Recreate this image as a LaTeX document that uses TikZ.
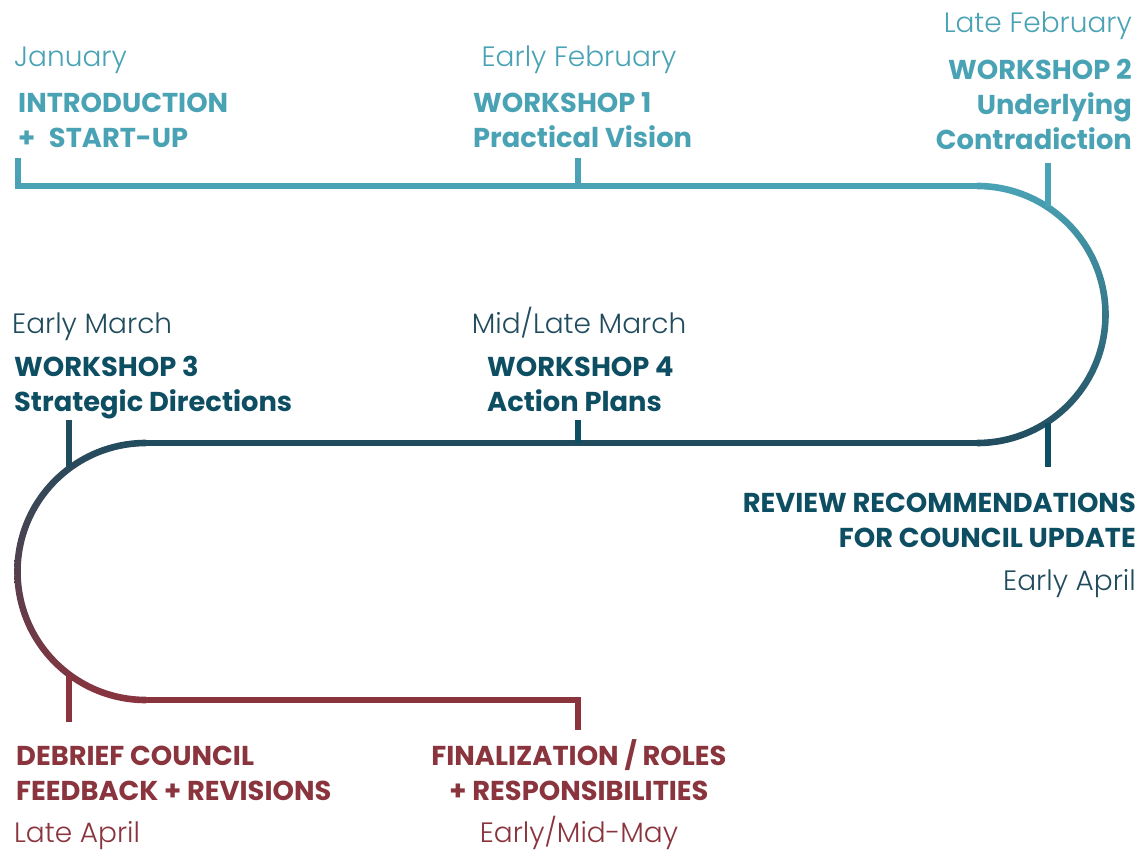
\documentclass[tikz,border=0pt]{standalone}
\usepackage{fontspec}
\setmainfont{Poppins}
\newfontfamily\thinfont{Poppins Light}
\usetikzlibrary{positioning}

\begin{document}
\begin{tikzpicture}[x=1pt,y=-1pt]
\definecolor{tealpale}{RGB}{74,163,181};
\definecolor{tealdeep}{RGB}{14,78,98};
\definecolor{tealdusk}{RGB}{33,76,94};
\definecolor{winered}{RGB}{138,52,62};
\useasboundingbox (0,0) rectangle (1143,850);
\tikzstyle{track}=[line width=6.6pt, line join=miter];
\tikzstyle{every node}=[inner sep=0pt, font=\fontsize{28}{35}\selectfont];
\tikzstyle{head}=[font=\fontsize{27.3}{35}\selectfont\bfseries];
\tikzstyle{month}=[font=\fontsize{28}{35}\selectfont\thinfont];
% the timeline
\coordinate (jan) at (18,158);
\coordinate (feb) at (578,158);
\coordinate (turnA) at (977,186);
\coordinate (turnB) at (977,443);
\coordinate (turnC) at (146,443);
\coordinate (turnD) at (146,700);
\coordinate (may) at (578,730);
\draw[track, tealpale] (jan) -- (jan |- turnA) -- (turnA);
\draw[track, tealpale] (feb) -- (feb |- turnA);
\shade[top color=tealpale, bottom color=tealdusk]
  (977,182.7) arc (-90:90:131.8) -- (977,439.7) arc (90:-90:125.2) -- cycle;
\draw[track, tealdusk] (turnB) -- (turnC);
\shade[top color=tealdusk, bottom color=winered]
  (146,439.7) arc (-90:-270:131.8) -- (146,696.7) arc (90:270:125.2) -- cycle;
\draw[track, winered] (turnD) -- (may |- turnD) -- (may);
% ticks on the turns and the middle
\draw[track, tealpale] (1048,163) -- (1048,207);
\draw[track, tealdeep] (578,420) -- (578,443);
\draw[track, tealdeep] (1048,423) -- (1048,467);
\draw[track, tealdusk] (69,420) -- (69,467);
\draw[track, winered] (69,675) -- (69,722);
% top row
\tikzstyle{every node}+=[tealpale];
\node[month, anchor=base west] (m1) at (14,67) {January};
\node[head, anchor=base west] (s1a) at (18,113) {INTRODUCTION};
\node[head, anchor=base west] (s1b) at (18,148) {+\hspace{0.5em}START-UP};
\node[month, anchor=base] (m2) at (579,67) {Early February};
\node[head, anchor=base west] (s2a) at (473,113) {WORKSHOP 1};
\node[head, anchor=base west] (s2b) at (473,148) {Practical Vision};
\node[month, anchor=base east] (m3) at (1132,33) {Late February};
\foreach \t [count=\i] in {WORKSHOP 2, Underlying, Contradiction}
  \node[head, anchor=base east] (s3\i) at (1132,45+35*\i) {\t};
% middle row
\tikzstyle{every node}+=[tealdeep];
\node[month, tealdusk, anchor=base west] (m4) at (12,334) {Early March};
\node[head, anchor=base west] (s4a) at (14,376) {WORKSHOP 3};
\node[head, anchor=base west] (s4b) at (14,411) {Strategic Directions};
\node[month, tealdusk, anchor=base] (m5) at (579,334) {Mid/Late March};
\node[head, anchor=base west] (s5a) at (487,376) {WORKSHOP 4};
\node[head, anchor=base west] (s5b) at (487,411) {Action Plans};
\node[head, anchor=base east] (s6a) at (1136,512) {REVIEW RECOMMENDATIONS};
\node[head, anchor=base east] (s6b) at (1136,547) {FOR COUNCIL UPDATE};
\node[month, tealdusk, anchor=base east] (m6) at (1136,590) {Early April};
% bottom row
\tikzstyle{every node}+=[winered];
\node[head, anchor=base west] (s7a) at (16,765) {DEBRIEF COUNCIL};
\node[head, anchor=base west] (s7b) at (16,800) {FEEDBACK + REVISIONS};
\node[month, anchor=base west] (m7) at (14,842) {Late April};
\node[head, anchor=base] (s8a) at (579,765) {FINALIZATION / ROLES};
\node[head, anchor=base] (s8b) at (579,800) {+ RESPONSIBILITIES};
\node[month, anchor=base] (m8) at (579,842) {Early/Mid-May};
\end{tikzpicture}
\end{document}
